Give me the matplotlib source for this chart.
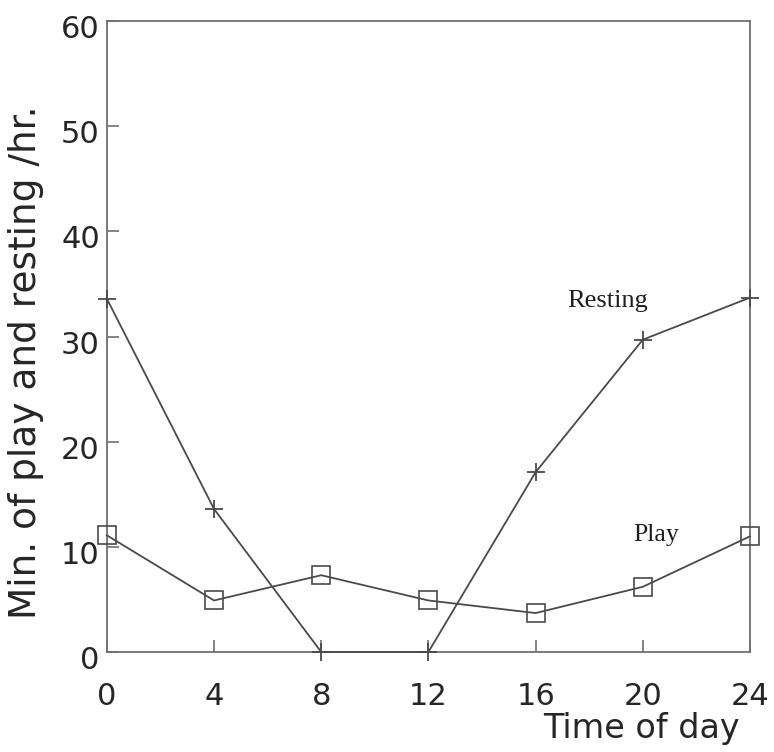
import matplotlib
matplotlib.use("Agg")
import matplotlib.pyplot as plt
import matplotlib.transforms as mtransforms

# --- data ---
hours = [0, 4, 8, 12, 16, 20, 24]
resting = [33.6, 13.6, 0.0, 0.0, 17.1, 29.7, 33.7]
play = [11.1, 4.9, 7.3, 4.9, 3.7, 6.2, 11.0]

x_ticks = [0, 4, 8, 12, 16, 20, 24]
y_ticks = [0, 10, 20, 30, 40, 50, 60]

LINE = '#4a4a4a'
SPINE = '#707070'
TXT = '#1e1e1e'

plt.rcParams['font.family'] = ['DejaVu Sans']

fig = plt.figure(figsize=(7.74, 7.52), dpi=100)
ax = fig.add_axes([0.138, 0.133, 0.831, 0.839])

ax.plot(hours, resting, color=LINE, lw=1.3, marker='+', ms=13, mew=1.3,
        clip_on=False, zorder=3)
ax.plot(hours, play, color=LINE, lw=1.3, marker='s', ms=13.5, mew=1.2,
        mfc='none', mec=LINE, clip_on=False, zorder=3)

# series labels sit next to the curves, not in a legend
ax.text(18.7, 32.8, 'Resting', family='Liberation Serif', fontsize=19,
        color=TXT, ha='center', va='baseline')
ax.text(20.5, 10.55, 'Play', family='Liberation Serif', fontsize=18.5,
        color=TXT, ha='center', va='baseline')

ax.set_xlim(0, 24)
ax.set_ylim(0, 60)
ax.set_xticks(x_ticks)
ax.set_yticks(y_ticks)
ax.tick_params(direction='in', length=8.5, width=1.2, color=SPINE,
               labelsize=22, labelcolor='#262626')
ax.tick_params(axis='x', pad=21.5)
ax.tick_params(axis='y', pad=5)
for s in ax.spines.values():
    s.set_color(SPINE)
    s.set_linewidth(1.3)

# y tick numbers sit a little below their ticks in the original
shift = mtransforms.ScaledTranslation(0, -4 / 72, fig.dpi_scale_trans)
for lab in ax.get_yticklabels():
    lab.set_transform(lab.get_transform() + shift)

ax.set_ylabel('Min. of play and resting /hr.', fontsize=27, color='#262626')
ax.yaxis.set_label_coords(-0.097, 0.46)
ax.set_xlabel('Time of day', fontsize=24, color='#262626', ha='right')
ax.xaxis.set_label_coords(0.984, -0.095)

fig.savefig('out.png', dpi=100, facecolor='white')
